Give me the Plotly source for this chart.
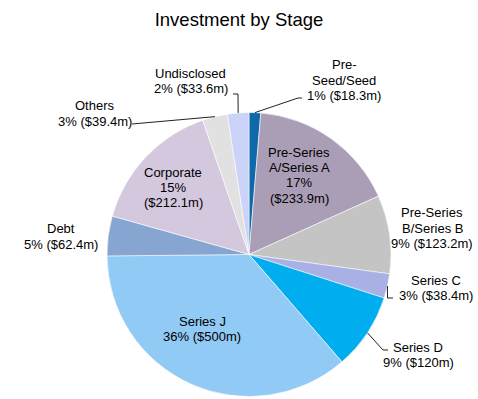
import math
import plotly.graph_objects as go

# ---- data ----
stages = ["Pre-Seed/Seed", "Pre-Series A/Series A", "Pre-Series B/Series B", "Series C",
          "Series D", "Series J", "Debt", "Corporate", "Others", "Undisclosed"]
label_lines = [["Pre-", "Seed/Seed"], ["Pre-Series", "A/Series A"], ["Pre-Series", "B/Series B"], ["Series C"],
               ["Series D"], ["Series J"], ["Debt"], ["Corporate"], ["Others"], ["Undisclosed"]]
amounts = [18.3, 233.9, 123.2, 38.4, 120.0, 500.0, 62.4, 212.1, 39.4, 33.6]
pct_break = [False, True, False, False, False, False, False, True, False, False]

# ---- style ----
colors = ["#0F69A8", "#AA9EB6", "#C4C4C4", "#A9B0E3", "#00AEEF",
          "#90CAF5", "#86A5D1", "#D4C8DE", "#E1E1E1", "#CBD3F8"]
W, H = 478, 399
CX, CY, R = 249, 254.5, 142
LINE_H = 15.3
# label centres (pixels)
label_pos = [(344, 80), (299, 175.3), (432, 228), (436, 288), (418, 355),
             (202, 329), (61, 236.5), (173, 187.3), (95, 113.5), (190.5, 81)]
# leader elbow/end points (pixels); None = no leader
leaders = [[(298, 98), (302, 98)], None, None, [(387.5, 298), (393, 298)],
           [(383, 350), (388, 350)], None, None, None, [(132, 124)], [(238, 94), (233, 94)]]

FONT = "Liberation Sans, Arial, sans-serif"

def px(x):
    return x / W

def py(y):
    return 1 - y / H

total = sum(amounts)
fig = go.Figure(go.Pie(
    labels=stages, values=amounts, sort=False, direction="clockwise", rotation=0,
    marker=dict(colors=colors, line=dict(color="rgba(255,255,255,0.7)", width=0.8)),
    textinfo="none", hoverinfo="label+value+percent",
    domain=dict(x=[px(CX - R), px(CX + R)], y=[py(CY + R), py(CY - R)]),
    showlegend=False,
))

annotations = []
shapes = []
cum = 0.0
for i, v in enumerate(amounts):
    mid = (cum + v / 2) / total * 2 * math.pi
    cum += v
    pct = round(v / total * 100)
    lines = list(label_lines[i])
    if pct_break[i]:
        lines += [f"{pct}%", f"(${v:g}m)"]
    else:
        lines += [f"{pct}% (${v:g}m)"]
    lx, ly = label_pos[i]
    n = len(lines)
    for k, t in enumerate(lines):
        yy = ly + (k - (n - 1) / 2) * LINE_H
        annotations.append(dict(x=px(lx), y=py(yy), xref="paper", yref="paper", text=t,
                                showarrow=False, xanchor="center", yanchor="middle", align="center",
                                font=dict(family=FONT, size=13, color="#000")))
    if leaders[i]:
        pts = [(CX + R * math.sin(mid), CY - R * math.cos(mid))] + leaders[i]
        path = "M " + " L ".join(f"{px(a)},{py(b)}" for a, b in pts)
        shapes.append(dict(type="path", xref="paper", yref="paper", path=path,
                           line=dict(color="#222", width=1)))

fig.update_layout(
    width=W, height=H, margin=dict(l=0, r=0, t=0, b=0),
    paper_bgcolor="white", plot_bgcolor="white",
    title=dict(text="Investment by Stage", x=0.5, xanchor="center", y=1 - 20 / H, yanchor="middle",
               font=dict(family=FONT, size=18.5, color="#000")),
    annotations=annotations, shapes=shapes,
)

fig.write_html("out.html", config={"displayModeBar": False},
               post_script="document.body.style.margin='0';document.body.style.overflow='hidden';")
